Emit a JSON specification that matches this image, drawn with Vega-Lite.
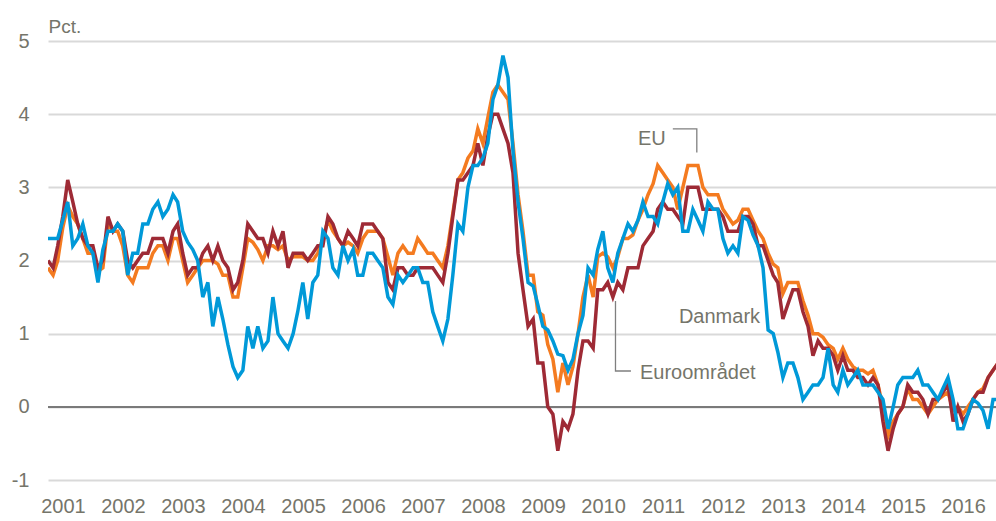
{
  "$schema": "https://vega.github.io/schema/vega-lite/v6.json",
  "width": 948,
  "height": 439,
  "autosize": {"type": "none"},
  "padding": {"left": 48, "top": 41, "right": 0, "bottom": 41},
  "background": "white",
  "config": {
    "view": {"stroke": null},
    "font": "Liberation Sans",
    "axis": {
      "labelFont": "Liberation Sans",
      "labelFontSize": 20,
      "labelColor": "#75756a",
      "ticks": false,
      "domain": false,
      "titleFont": "Liberation Sans",
      "titleColor": "#75756a",
      "titleFontWeight": "normal"
    },
    "axisX": {"grid": false, "labelPadding": 16, "labelOffset": 15, "labelFlush": false, "labelOverlap": false, "labelBound": false},
    "axisY": {
      "grid": true,
      "gridColor": "#d9d9d9",
      "gridWidth": 2,
      "labelPadding": 19,
      "titleAngle": 0,
      "titleAlign": "left",
      "titleBaseline": "alphabetic",
      "titleX": 0,
      "titleY": -9,
      "titleFontSize": 19
    }
  },
  "datasets": {
    "main": [
      {"d":"2001-01-01","dk":2.3,"ea":2.0,"eu":1.9},
      {"d":"2001-02-01","dk":2.3,"ea":1.9,"eu":1.8},
      {"d":"2001-03-01","dk":2.3,"ea":2.2,"eu":2.0},
      {"d":"2001-04-01","dk":2.55,"ea":2.6,"eu":2.45},
      {"d":"2001-05-01","dk":2.8,"ea":3.1,"eu":2.75},
      {"d":"2001-06-01","dk":2.2,"ea":2.8,"eu":2.6},
      {"d":"2001-07-01","dk":2.3,"ea":2.5,"eu":2.5},
      {"d":"2001-08-01","dk":2.5,"ea":2.3,"eu":2.3},
      {"d":"2001-09-01","dk":2.2,"ea":2.2,"eu":2.1},
      {"d":"2001-10-01","dk":2.1,"ea":2.2,"eu":2.1},
      {"d":"2001-11-01","dk":1.7,"ea":1.9,"eu":1.85},
      {"d":"2001-12-01","dk":2.15,"ea":2.0,"eu":1.9},
      {"d":"2002-01-01","dk":2.4,"ea":2.6,"eu":2.5},
      {"d":"2002-02-01","dk":2.4,"ea":2.4,"eu":2.4},
      {"d":"2002-03-01","dk":2.5,"ea":2.5,"eu":2.4},
      {"d":"2002-04-01","dk":2.4,"ea":2.4,"eu":2.2},
      {"d":"2002-05-01","dk":1.8,"ea":2.0,"eu":1.8},
      {"d":"2002-06-01","dk":2.1,"ea":1.9,"eu":1.7},
      {"d":"2002-07-01","dk":2.1,"ea":2.0,"eu":1.9},
      {"d":"2002-08-01","dk":2.5,"ea":2.1,"eu":1.9},
      {"d":"2002-09-01","dk":2.5,"ea":2.1,"eu":1.9},
      {"d":"2002-10-01","dk":2.7,"ea":2.3,"eu":2.1},
      {"d":"2002-11-01","dk":2.8,"ea":2.3,"eu":2.2},
      {"d":"2002-12-01","dk":2.6,"ea":2.3,"eu":2.2},
      {"d":"2003-01-01","dk":2.7,"ea":2.1,"eu":2.0},
      {"d":"2003-02-01","dk":2.9,"ea":2.4,"eu":2.3},
      {"d":"2003-03-01","dk":2.8,"ea":2.5,"eu":2.3},
      {"d":"2003-04-01","dk":2.4,"ea":2.1,"eu":2.0},
      {"d":"2003-05-01","dk":2.25,"ea":1.8,"eu":1.7},
      {"d":"2003-06-01","dk":2.15,"ea":1.9,"eu":1.8},
      {"d":"2003-07-01","dk":2.0,"ea":1.9,"eu":1.9},
      {"d":"2003-08-01","dk":1.5,"ea":2.1,"eu":2.0},
      {"d":"2003-09-01","dk":1.7,"ea":2.2,"eu":2.0},
      {"d":"2003-10-01","dk":1.1,"ea":2.0,"eu":2.0},
      {"d":"2003-11-01","dk":1.5,"ea":2.2,"eu":1.95},
      {"d":"2003-12-01","dk":1.2,"ea":2.0,"eu":1.8},
      {"d":"2004-01-01","dk":0.85,"ea":1.9,"eu":1.8},
      {"d":"2004-02-01","dk":0.55,"ea":1.6,"eu":1.5},
      {"d":"2004-03-01","dk":0.4,"ea":1.7,"eu":1.5},
      {"d":"2004-04-01","dk":0.5,"ea":2.0,"eu":1.9},
      {"d":"2004-05-01","dk":1.1,"ea":2.5,"eu":2.3},
      {"d":"2004-06-01","dk":0.8,"ea":2.4,"eu":2.25},
      {"d":"2004-07-01","dk":1.1,"ea":2.3,"eu":2.15},
      {"d":"2004-08-01","dk":0.8,"ea":2.3,"eu":2.0},
      {"d":"2004-09-01","dk":0.9,"ea":2.1,"eu":2.2},
      {"d":"2004-10-01","dk":1.5,"ea":2.4,"eu":2.2},
      {"d":"2004-11-01","dk":1.0,"ea":2.2,"eu":2.15},
      {"d":"2004-12-01","dk":0.9,"ea":2.4,"eu":2.2},
      {"d":"2005-01-01","dk":0.8,"ea":1.9,"eu":2.0},
      {"d":"2005-02-01","dk":1.0,"ea":2.1,"eu":2.05},
      {"d":"2005-03-01","dk":1.3,"ea":2.1,"eu":2.05},
      {"d":"2005-04-01","dk":1.7,"ea":2.1,"eu":2.05},
      {"d":"2005-05-01","dk":1.2,"ea":2.0,"eu":2.0},
      {"d":"2005-06-01","dk":1.7,"ea":2.1,"eu":2.0},
      {"d":"2005-07-01","dk":1.8,"ea":2.2,"eu":2.1},
      {"d":"2005-08-01","dk":2.4,"ea":2.2,"eu":2.3},
      {"d":"2005-09-01","dk":2.3,"ea":2.6,"eu":2.55},
      {"d":"2005-10-01","dk":1.9,"ea":2.5,"eu":2.4},
      {"d":"2005-11-01","dk":1.8,"ea":2.3,"eu":2.3},
      {"d":"2005-12-01","dk":2.2,"ea":2.2,"eu":2.2},
      {"d":"2006-01-01","dk":2.0,"ea":2.4,"eu":2.25},
      {"d":"2006-02-01","dk":2.15,"ea":2.3,"eu":2.2},
      {"d":"2006-03-01","dk":1.8,"ea":2.2,"eu":2.1},
      {"d":"2006-04-01","dk":1.8,"ea":2.5,"eu":2.3},
      {"d":"2006-05-01","dk":2.1,"ea":2.5,"eu":2.4},
      {"d":"2006-06-01","dk":2.1,"ea":2.5,"eu":2.4},
      {"d":"2006-07-01","dk":2.0,"ea":2.4,"eu":2.4},
      {"d":"2006-08-01","dk":1.9,"ea":2.3,"eu":2.3},
      {"d":"2006-09-01","dk":1.5,"ea":1.7,"eu":2.05},
      {"d":"2006-10-01","dk":1.4,"ea":1.6,"eu":1.8},
      {"d":"2006-11-01","dk":1.8,"ea":1.9,"eu":2.1},
      {"d":"2006-12-01","dk":1.7,"ea":1.9,"eu":2.2},
      {"d":"2007-01-01","dk":1.8,"ea":1.8,"eu":2.1},
      {"d":"2007-02-01","dk":1.9,"ea":1.8,"eu":2.1},
      {"d":"2007-03-01","dk":1.9,"ea":1.9,"eu":2.3},
      {"d":"2007-04-01","dk":1.7,"ea":1.9,"eu":2.2},
      {"d":"2007-05-01","dk":1.7,"ea":1.9,"eu":2.1},
      {"d":"2007-06-01","dk":1.3,"ea":1.9,"eu":2.1},
      {"d":"2007-07-01","dk":1.1,"ea":1.8,"eu":2.0},
      {"d":"2007-08-01","dk":0.9,"ea":1.7,"eu":1.9},
      {"d":"2007-09-01","dk":1.2,"ea":2.1,"eu":2.2},
      {"d":"2007-10-01","dk":1.8,"ea":2.6,"eu":2.65},
      {"d":"2007-11-01","dk":2.5,"ea":3.1,"eu":3.1},
      {"d":"2007-12-01","dk":2.4,"ea":3.1,"eu":3.2},
      {"d":"2008-01-01","dk":3.0,"ea":3.2,"eu":3.4},
      {"d":"2008-02-01","dk":3.3,"ea":3.3,"eu":3.5},
      {"d":"2008-03-01","dk":3.3,"ea":3.6,"eu":3.8},
      {"d":"2008-04-01","dk":3.4,"ea":3.3,"eu":3.6},
      {"d":"2008-05-01","dk":3.6,"ea":3.7,"eu":3.95},
      {"d":"2008-06-01","dk":4.2,"ea":4.0,"eu":4.3},
      {"d":"2008-07-01","dk":4.4,"ea":4.0,"eu":4.4},
      {"d":"2008-08-01","dk":4.8,"ea":3.8,"eu":4.3},
      {"d":"2008-09-01","dk":4.5,"ea":3.6,"eu":4.2},
      {"d":"2008-10-01","dk":3.5,"ea":3.2,"eu":3.6},
      {"d":"2008-11-01","dk":2.8,"ea":2.1,"eu":2.9},
      {"d":"2008-12-01","dk":2.3,"ea":1.6,"eu":2.4},
      {"d":"2009-01-01","dk":1.7,"ea":1.1,"eu":1.8},
      {"d":"2009-02-01","dk":1.65,"ea":1.2,"eu":1.8},
      {"d":"2009-03-01","dk":1.4,"ea":0.6,"eu":1.3},
      {"d":"2009-04-01","dk":1.1,"ea":0.6,"eu":1.25},
      {"d":"2009-05-01","dk":1.05,"ea":0.0,"eu":0.85},
      {"d":"2009-06-01","dk":0.9,"ea":-0.1,"eu":0.65},
      {"d":"2009-07-01","dk":0.72,"ea":-0.6,"eu":0.2},
      {"d":"2009-08-01","dk":0.7,"ea":-0.2,"eu":0.6},
      {"d":"2009-09-01","dk":0.5,"ea":-0.3,"eu":0.3},
      {"d":"2009-10-01","dk":0.65,"ea":-0.1,"eu":0.55},
      {"d":"2009-11-01","dk":1.0,"ea":0.5,"eu":1.0},
      {"d":"2009-12-01","dk":1.25,"ea":0.9,"eu":1.5},
      {"d":"2010-01-01","dk":1.9,"ea":0.9,"eu":1.8},
      {"d":"2010-02-01","dk":1.8,"ea":0.8,"eu":1.5},
      {"d":"2010-03-01","dk":2.15,"ea":1.6,"eu":2.05},
      {"d":"2010-04-01","dk":2.4,"ea":1.6,"eu":2.1},
      {"d":"2010-05-01","dk":1.9,"ea":1.7,"eu":2.05},
      {"d":"2010-06-01","dk":1.7,"ea":1.5,"eu":1.9},
      {"d":"2010-07-01","dk":2.1,"ea":1.7,"eu":2.05},
      {"d":"2010-08-01","dk":2.3,"ea":1.6,"eu":2.3},
      {"d":"2010-09-01","dk":2.5,"ea":1.9,"eu":2.3},
      {"d":"2010-10-01","dk":2.4,"ea":1.9,"eu":2.35},
      {"d":"2010-11-01","dk":2.55,"ea":1.9,"eu":2.55},
      {"d":"2010-12-01","dk":2.8,"ea":2.2,"eu":2.7},
      {"d":"2011-01-01","dk":2.6,"ea":2.3,"eu":2.9},
      {"d":"2011-02-01","dk":2.6,"ea":2.4,"eu":3.05},
      {"d":"2011-03-01","dk":2.5,"ea":2.7,"eu":3.3},
      {"d":"2011-04-01","dk":2.8,"ea":2.8,"eu":3.2},
      {"d":"2011-05-01","dk":3.05,"ea":2.7,"eu":3.1},
      {"d":"2011-06-01","dk":2.9,"ea":2.7,"eu":3.0},
      {"d":"2011-07-01","dk":3.0,"ea":2.6,"eu":2.7},
      {"d":"2011-08-01","dk":2.4,"ea":2.5,"eu":3.0},
      {"d":"2011-09-01","dk":2.4,"ea":3.0,"eu":3.3},
      {"d":"2011-10-01","dk":2.7,"ea":3.0,"eu":3.3},
      {"d":"2011-11-01","dk":2.55,"ea":3.0,"eu":3.3},
      {"d":"2011-12-01","dk":2.4,"ea":2.7,"eu":3.0},
      {"d":"2012-01-01","dk":2.8,"ea":2.7,"eu":2.9},
      {"d":"2012-02-01","dk":2.7,"ea":2.7,"eu":2.9},
      {"d":"2012-03-01","dk":2.7,"ea":2.7,"eu":2.9},
      {"d":"2012-04-01","dk":2.3,"ea":2.6,"eu":2.7},
      {"d":"2012-05-01","dk":2.1,"ea":2.4,"eu":2.6},
      {"d":"2012-06-01","dk":2.2,"ea":2.4,"eu":2.5},
      {"d":"2012-07-01","dk":2.1,"ea":2.4,"eu":2.55},
      {"d":"2012-08-01","dk":2.6,"ea":2.6,"eu":2.7},
      {"d":"2012-09-01","dk":2.55,"ea":2.6,"eu":2.7},
      {"d":"2012-10-01","dk":2.35,"ea":2.5,"eu":2.55},
      {"d":"2012-11-01","dk":2.2,"ea":2.2,"eu":2.4},
      {"d":"2012-12-01","dk":1.9,"ea":2.2,"eu":2.3},
      {"d":"2013-01-01","dk":1.05,"ea":2.0,"eu":2.1},
      {"d":"2013-02-01","dk":1.0,"ea":1.8,"eu":1.95},
      {"d":"2013-03-01","dk":0.75,"ea":1.7,"eu":1.9},
      {"d":"2013-04-01","dk":0.4,"ea":1.2,"eu":1.55},
      {"d":"2013-05-01","dk":0.6,"ea":1.4,"eu":1.7},
      {"d":"2013-06-01","dk":0.6,"ea":1.6,"eu":1.7},
      {"d":"2013-07-01","dk":0.4,"ea":1.6,"eu":1.7},
      {"d":"2013-08-01","dk":0.1,"ea":1.3,"eu":1.45},
      {"d":"2013-09-01","dk":0.2,"ea":1.1,"eu":1.25},
      {"d":"2013-10-01","dk":0.3,"ea":0.7,"eu":1.0},
      {"d":"2013-11-01","dk":0.3,"ea":0.9,"eu":1.0},
      {"d":"2013-12-01","dk":0.4,"ea":0.8,"eu":0.95},
      {"d":"2014-01-01","dk":0.8,"ea":0.8,"eu":0.85},
      {"d":"2014-02-01","dk":0.3,"ea":0.7,"eu":0.8},
      {"d":"2014-03-01","dk":0.2,"ea":0.5,"eu":0.65},
      {"d":"2014-04-01","dk":0.5,"ea":0.7,"eu":0.8},
      {"d":"2014-05-01","dk":0.3,"ea":0.5,"eu":0.65},
      {"d":"2014-06-01","dk":0.4,"ea":0.5,"eu":0.55},
      {"d":"2014-07-01","dk":0.5,"ea":0.4,"eu":0.5},
      {"d":"2014-08-01","dk":0.3,"ea":0.4,"eu":0.5},
      {"d":"2014-09-01","dk":0.3,"ea":0.3,"eu":0.45},
      {"d":"2014-10-01","dk":0.3,"ea":0.4,"eu":0.5},
      {"d":"2014-11-01","dk":0.2,"ea":0.3,"eu":0.3},
      {"d":"2014-12-01","dk":0.1,"ea":-0.2,"eu":0.0},
      {"d":"2015-01-01","dk":-0.3,"ea":-0.6,"eu":-0.4},
      {"d":"2015-02-01","dk":0.0,"ea":-0.3,"eu":-0.2},
      {"d":"2015-03-01","dk":0.3,"ea":-0.1,"eu":-0.1},
      {"d":"2015-04-01","dk":0.4,"ea":0.0,"eu":0.0},
      {"d":"2015-05-01","dk":0.4,"ea":0.3,"eu":0.25},
      {"d":"2015-06-01","dk":0.4,"ea":0.2,"eu":0.1},
      {"d":"2015-07-01","dk":0.5,"ea":0.2,"eu":0.1},
      {"d":"2015-08-01","dk":0.3,"ea":0.1,"eu":0.0},
      {"d":"2015-09-01","dk":0.3,"ea":-0.1,"eu":-0.1},
      {"d":"2015-10-01","dk":0.2,"ea":0.1,"eu":0.0},
      {"d":"2015-11-01","dk":0.1,"ea":0.1,"eu":0.1},
      {"d":"2015-12-01","dk":0.25,"ea":0.2,"eu":0.15},
      {"d":"2016-01-01","dk":0.4,"ea":0.3,"eu":0.2},
      {"d":"2016-02-01","dk":0.1,"ea":-0.2,"eu":-0.05},
      {"d":"2016-03-01","dk":-0.3,"ea":0.0,"eu":0.0},
      {"d":"2016-04-01","dk":-0.3,"ea":-0.2,"eu":-0.1},
      {"d":"2016-05-01","dk":-0.1,"ea":-0.1,"eu":0.0},
      {"d":"2016-06-01","dk":0.1,"ea":0.1,"eu":0.1},
      {"d":"2016-07-01","dk":0.05,"ea":0.2,"eu":0.2},
      {"d":"2016-08-01","dk":-0.05,"ea":0.2,"eu":0.25},
      {"d":"2016-09-01","dk":-0.3,"ea":0.4,"eu":0.4},
      {"d":"2016-10-01","dk":0.1,"ea":0.5,"eu":0.5},
      {"d":"2016-11-01","dk":0.1,"ea":0.6,"eu":0.6}
    ],
    "lead": [
      {"g":"eu","o":1,"d":"2011-06-01","v":3.8},
      {"g":"eu","o":2,"d":"2011-10-25","v":3.8},
      {"g":"eu","o":3,"d":"2011-10-25","v":3.475},
      {"g":"ea","o":1,"d":"2010-06-17","v":1.446},
      {"g":"ea","o":2,"d":"2010-06-17","v":0.49},
      {"g":"ea","o":3,"d":"2010-09-19","v":0.49}
    ],
    "annL": [
      {"t":"EU","d":"2010-11-01","v":3.584},
      {"t":"Euroområdet","d":"2010-11-13","v":0.378}
    ],
    "annR": [
      {"t":"Danmark","d":"2012-11-13","v":1.142}
    ]
  },
  "layer": [
    {
      "data": {"name": "main"},
      "mark": {"type": "rule", "color": "#7a7a7a", "strokeWidth": 1.8},
      "encoding": {
        "y": {"datum": 0, "type": "quantitative", "scale": {"domain": [-1, 5], "nice": false, "zero": false}, "axis": {"values": [-1, 0, 1, 2, 3, 4, 5], "title": "Pct.", "labelExpr": "datum.value < 0 ? '-' + abs(datum.value) : '' + datum.value"}}
      }
    },
    {
      "data": {"name": "main"},
      "mark": {"type": "line", "color": "#F47B20", "strokeWidth": 3.5, "clip": true},
      "encoding": {
        "x": {"field": "d", "type": "temporal", "scale": {"type": "utc", "domain": [{"year": 2001, "month": 1, "date": 1, "utc": true}, {"year": 2016, "month": 10, "date": 19, "utc": true}]}, "axis": {"format": "%Y", "tickCount": {"interval": "year", "step": 1}, "title": null}},
        "y": {"field": "eu", "type": "quantitative", "axis": {"values": [-1, 0, 1, 2, 3, 4, 5], "title": "Pct.", "labelExpr": "datum.value < 0 ? '-' + abs(datum.value) : '' + datum.value"}}
      }
    },
    {
      "data": {"name": "main"},
      "mark": {"type": "line", "color": "#9E2A35", "strokeWidth": 3.5, "clip": true},
      "encoding": {
        "x": {"field": "d", "type": "temporal", "axis": {"format": "%Y", "tickCount": {"interval": "year", "step": 1}, "title": null}},
        "y": {"field": "ea", "type": "quantitative", "axis": {"values": [-1, 0, 1, 2, 3, 4, 5], "title": "Pct.", "labelExpr": "datum.value < 0 ? '-' + abs(datum.value) : '' + datum.value"}}
      }
    },
    {
      "data": {"name": "main"},
      "mark": {"type": "line", "color": "#0099D8", "strokeWidth": 3.5, "clip": true},
      "encoding": {
        "x": {"field": "d", "type": "temporal", "axis": {"format": "%Y", "tickCount": {"interval": "year", "step": 1}, "title": null}},
        "y": {"field": "dk", "type": "quantitative", "axis": {"values": [-1, 0, 1, 2, 3, 4, 5], "title": "Pct.", "labelExpr": "datum.value < 0 ? '-' + abs(datum.value) : '' + datum.value"}}
      }
    },
    {
      "data": {"name": "lead"},
      "mark": {"type": "line", "color": "#7f7f7f", "strokeWidth": 1.3, "strokeJoin": "miter"},
      "encoding": {
        "x": {"field": "d", "type": "temporal", "axis": {"format": "%Y", "tickCount": {"interval": "year", "step": 1}, "title": null}},
        "y": {"field": "v", "type": "quantitative", "axis": {"values": [-1, 0, 1, 2, 3, 4, 5], "title": "Pct.", "labelExpr": "datum.value < 0 ? '-' + abs(datum.value) : '' + datum.value"}},
        "detail": {"field": "g"},
        "order": {"field": "o"}
      }
    },
    {
      "data": {"name": "annL"},
      "mark": {"type": "text", "align": "left", "baseline": "alphabetic", "fontSize": 20, "color": "#75756a", "font": "Liberation Sans"},
      "encoding": {
        "x": {"field": "d", "type": "temporal", "axis": {"format": "%Y", "tickCount": {"interval": "year", "step": 1}, "title": null}},
        "y": {"field": "v", "type": "quantitative", "axis": {"values": [-1, 0, 1, 2, 3, 4, 5], "title": "Pct.", "labelExpr": "datum.value < 0 ? '-' + abs(datum.value) : '' + datum.value"}},
        "text": {"field": "t"}
      }
    },
    {
      "data": {"name": "annR"},
      "mark": {"type": "text", "align": "right", "baseline": "alphabetic", "fontSize": 20, "color": "#75756a", "font": "Liberation Sans"},
      "encoding": {
        "x": {"field": "d", "type": "temporal", "axis": {"format": "%Y", "tickCount": {"interval": "year", "step": 1}, "title": null}},
        "y": {"field": "v", "type": "quantitative", "axis": {"values": [-1, 0, 1, 2, 3, 4, 5], "title": "Pct.", "labelExpr": "datum.value < 0 ? '-' + abs(datum.value) : '' + datum.value"}},
        "text": {"field": "t"}
      }
    }
  ]
}
